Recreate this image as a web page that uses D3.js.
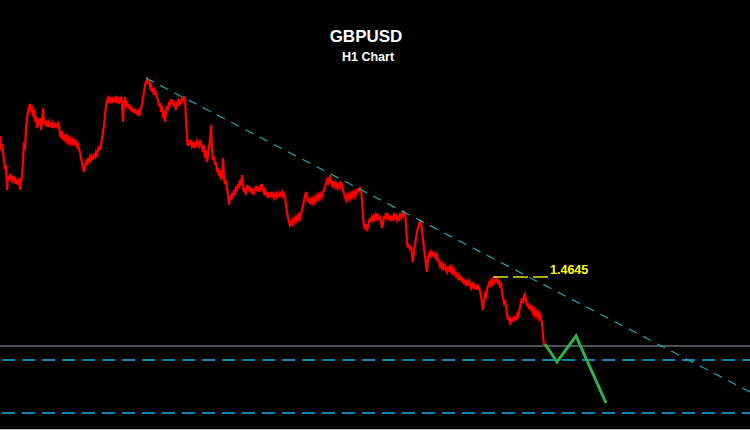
<!DOCTYPE html>
<html>
<head>
<meta charset="utf-8">
<script src="https://cdn.jsdelivr.net/npm/d3@7"></script>
<style>
html,body{margin:0;padding:0;background:#000;}
svg{display:block;}
</style>
</head>
<body>
<svg id="chart" width="750" height="430"></svg>
<script>
// ---- data (hourly closes, one per hour index starting at 0) ----
const symbol = "GBPUSD";
const timeframe = "H1 Chart";
const closes = [
1.4786,1.4772,1.4778,1.4770,1.4762,1.4752,1.4757,1.4732,1.4746,1.4742,
1.4748,1.4744,1.4741,1.4746,1.4740,1.4743,1.4738,1.4742,1.4737,1.4744,
1.4732,1.4740,1.4746,1.4762,1.4780,1.4772,1.4794,1.4804,1.4810,1.4815,
1.4818,1.4812,1.4814,1.4808,1.4810,1.4800,1.4806,1.4794,1.4803,1.4797,
1.4804,1.4792,1.4801,1.4814,1.4798,1.4802,1.4796,1.4799,1.4795,1.4800,
1.4797,1.4798,1.4794,1.4799,1.4796,1.4798,1.4795,1.4797,1.4799,1.4796,
1.4788,1.4784,1.4791,1.4782,1.4787,1.4783,1.4786,1.4781,1.4784,1.4780,
1.4783,1.4779,1.4782,1.4777,1.4781,1.4778,1.4780,1.4776,1.4779,1.4772,
1.4770,1.4764,1.4759,1.4754,1.4750,1.4756,1.4760,1.4757,1.4764,1.4761,
1.4765,1.4762,1.4766,1.4764,1.4767,1.4765,1.4770,1.4767,1.4772,1.4776,
1.4772,1.4777,1.4784,1.4790,1.4797,1.4807,1.4816,1.4822,1.4824,1.4819,
1.4825,1.4821,1.4823,1.4819,1.4824,1.4820,1.4826,1.4821,1.4823,1.4818,
1.4822,1.4824,1.4819,1.4800,1.4820,1.4825,1.4817,1.4819,1.4814,1.4818,
1.4812,1.4816,1.4810,1.4814,1.4809,1.4813,1.4808,1.4812,1.4806,1.4811,
1.4809,1.4814,1.4818,1.4824,1.4830,1.4837,1.4840,1.4843,1.4838,1.4842,
1.4835,1.4837,1.4830,1.4834,1.4827,1.4832,1.4829,1.4825,1.4822,1.4816,
1.4819,1.4810,1.4816,1.4804,1.4812,1.4800,1.4810,1.4816,1.4812,1.4820,
1.4816,1.4823,1.4818,1.4822,1.4815,1.4820,1.4812,1.4818,1.4821,1.4816,
1.4822,1.4818,1.4824,1.4820,1.4826,1.4823,1.4802,1.4782,1.4776,1.4782,
1.4779,1.4782,1.4776,1.4778,1.4774,1.4780,1.4777,1.4781,1.4778,1.4776,
1.4782,1.4779,1.4774,1.4770,1.4777,1.4764,1.4772,1.4760,1.4767,1.4774,
1.4782,1.4797,1.4772,1.4762,1.4766,1.4757,1.4760,1.4750,1.4754,1.4746,
1.4752,1.4742,1.4747,1.4764,1.4744,1.4738,1.4742,1.4734,1.4727,1.4717,
1.4726,1.4722,1.4729,1.4724,1.4732,1.4727,1.4736,1.4731,1.4738,1.4734,
1.4742,1.4737,1.4747,1.4736,1.4730,1.4734,1.4727,1.4737,1.4732,1.4736,
1.4730,1.4734,1.4728,1.4733,1.4729,1.4732,1.4736,1.4731,1.4735,1.4730,
1.4737,1.4734,1.4738,1.4732,1.4729,1.4734,1.4727,1.4730,1.4724,1.4729,
1.4725,1.4730,1.4726,1.4728,1.4724,1.4727,1.4729,1.4725,1.4728,1.4726,
1.4729,1.4727,1.4730,1.4726,1.4728,1.4725,1.4717,1.4710,1.4704,1.4700,
1.4697,1.4700,1.4696,1.4702,1.4700,1.4704,1.4701,1.4705,1.4703,1.4707,
1.4704,1.4708,1.4712,1.4716,1.4722,1.4726,1.4730,1.4725,1.4720,1.4724,
1.4718,1.4722,1.4719,1.4723,1.4720,1.4724,1.4722,1.4726,1.4723,1.4727,
1.4724,1.4728,1.4726,1.4730,1.4732,1.4736,1.4738,1.4742,1.4739,1.4743,
1.4745,1.4740,1.4737,1.4741,1.4736,1.4739,1.4735,1.4738,1.4734,1.4737,
1.4739,1.4735,1.4737,1.4732,1.4728,1.4725,1.4722,1.4726,1.4723,1.4727,
1.4724,1.4728,1.4725,1.4729,1.4726,1.4730,1.4728,1.4732,1.4733,1.4731,
1.4734,1.4732,1.4722,1.4704,1.4697,1.4693,1.4698,1.4691,1.4696,1.4700,
1.4704,1.4700,1.4705,1.4702,1.4706,1.4703,1.4707,1.4704,1.4708,1.4702,
1.4706,1.4700,1.4694,1.4698,1.4706,1.4703,1.4709,1.4705,1.4708,1.4702,
1.4706,1.4701,1.4705,1.4703,1.4707,1.4704,1.4706,1.4702,1.4705,1.4703,
1.4707,1.4704,1.4708,1.4706,1.4710,1.4709,1.4697,1.4679,1.4674,1.4678,
1.4672,1.4676,1.4667,1.4660,1.4672,1.4677,1.4684,1.4690,1.4694,1.4698,
1.4701,1.4699,1.4692,1.4682,1.4674,1.4666,1.4657,1.4650,1.4664,1.4668,
1.4666,1.4670,1.4667,1.4669,1.4666,1.4668,1.4664,1.4667,1.4662,1.4660,
1.4656,1.4659,1.4654,1.4657,1.4652,1.4656,1.4653,1.4650,1.4654,1.4652,
1.4655,1.4651,1.4654,1.4649,1.4652,1.4650,1.4646,1.4648,1.4644,1.4647,
1.4642,1.4646,1.4640,1.4644,1.4638,1.4642,1.4636,1.4640,1.4638,1.4641,
1.4637,1.4634,1.4638,1.4635,1.4639,1.4633,1.4637,1.4632,1.4636,1.4634,
1.4632,1.4626,1.4619,1.4612,1.4622,1.4628,1.4626,1.4632,1.4636,1.4639,
1.4637,1.4641,1.4638,1.4642,1.4639,1.4641,1.4644,1.4642,1.4639,1.4641,
1.4636,1.4638,1.4630,1.4624,1.4619,1.4622,1.4616,1.4608,1.4602,1.4606,
1.4597,1.4604,1.4600,1.4605,1.4601,1.4606,1.4602,1.4607,1.4604,1.4610,
1.4614,1.4620,1.4624,1.4619,1.4626,1.4628,1.4622,1.4616,1.4619,1.4613,
1.4617,1.4611,1.4614,1.4609,1.4612,1.4607,1.4610,1.4606,1.4609,1.4604,
1.4607,1.4602,1.4600,1.4587,1.4575
];
// descending trendline anchors (hour index, price)
const trendHours = [146, 750];
const trendPrices = [1.4844, 1.4530];
// resistance marker level
const markLevel = 1.4645;
const markHours = [493, 548];
const markLabel = "1.4645";
// horizontal levels
const supportLevel = 1.4576;          // solid grey
const targetLevels = [1.4562, 1.4509]; // dashed blue
// projected path (hour index, price)
const projHours = [545, 557, 576, 606];
const projPrices = [1.4578, 1.4560, 1.4586, 1.4519];

// ---- drawing ----
const W = 750, H = 430;
const svg = d3.select("#chart");
svg.append("rect").attr("width", W).attr("height", H).attr("fill", "#000");

const x = d3.scaleLinear().domain([0, 750]).range([0, 750]);
const y = d3.scaleLinear().domain([1.4922 - 0.0430, 1.4922]).range([H, 0]);

// support grey line
svg.append("line")
  .attr("x1", 0).attr("x2", W)
  .attr("y1", y(supportLevel)).attr("y2", y(supportLevel))
  .attr("stroke", "#4c5157").attr("stroke-width", 2);

// target dashed blue lines
svg.selectAll("line.target").data(targetLevels).enter().append("line")
  .attr("class", "target")
  .attr("x1", 2).attr("x2", W)
  .attr("y1", d => y(d)).attr("y2", d => y(d))
  .attr("stroke", "#19b2e6").attr("stroke-width", 1.6)
  .attr("stroke-dasharray", "13,7");

// bottom border
svg.append("line")
  .attr("x1", 0).attr("x2", W).attr("y1", H - 0.5).attr("y2", H - 0.5)
  .attr("stroke", "#bbbbbb").attr("stroke-width", 1);

// price line
const line = d3.line().x((d, i) => x(i)).y(d => y(d));
svg.append("path").datum(closes)
  .attr("d", line)
  .attr("fill", "none").attr("stroke", "#ff0000")
  .attr("stroke-width", 2.2).attr("stroke-linejoin", "miter");

// trendline
svg.append("line")
  .attr("x1", x(trendHours[0])).attr("y1", y(trendPrices[0]))
  .attr("x2", x(trendHours[1])).attr("y2", y(trendPrices[1]))
  .attr("stroke", "#1aa8ad").attr("stroke-width", 1.2)
  .attr("stroke-dasharray", "9,7");

// yellow marker level
svg.append("line")
  .attr("x1", x(markHours[0])).attr("x2", x(markHours[1]))
  .attr("y1", y(markLevel)).attr("y2", y(markLevel))
  .attr("stroke", "#e6e600").attr("stroke-width", 1.5)
  .attr("stroke-dasharray", "15,5");
svg.append("text")
  .attr("x", x(markHours[1]) + 2).attr("y", y(markLevel) - 3)
  .attr("fill", "#ffff00")
  .attr("font-family", "Liberation Sans, Arial, sans-serif")
  .attr("font-weight", "bold").attr("font-size", 12.5)
  .text(markLabel);

// projection
const pline = d3.line().x(d => x(d[0])).y(d => y(d[1]));
svg.append("path").datum(projHours.map((h, i) => [h, projPrices[i]]))
  .attr("d", pline)
  .attr("fill", "none").attr("stroke", "#2db34a")
  .attr("stroke-width", 3).attr("stroke-linejoin", "miter");

// titles
svg.append("text").attr("x", 366).attr("y", 42)
  .attr("text-anchor", "middle").attr("fill", "#fff")
  .attr("font-family", "Liberation Sans, Arial, sans-serif")
  .attr("font-weight", "bold").attr("font-size", 17)
  .text(symbol);
svg.append("text").attr("x", 368).attr("y", 61)
  .attr("text-anchor", "middle").attr("fill", "#fff")
  .attr("font-family", "Liberation Sans, Arial, sans-serif")
  .attr("font-weight", "bold").attr("font-size", 12.5)
  .text(timeframe);
</script>
</body>
</html>
